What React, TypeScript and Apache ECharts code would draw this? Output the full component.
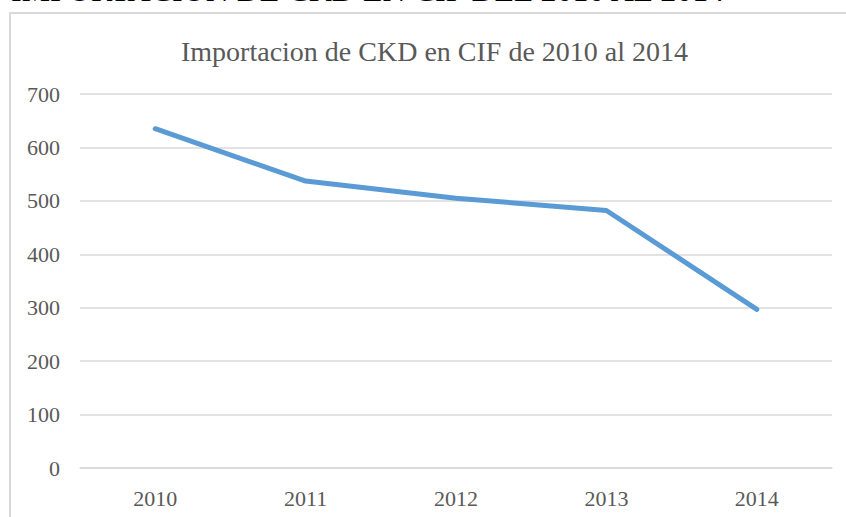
import React, { useEffect, useRef } from "react";
import * as echarts from "echarts";

const heading = "IMPORTACION DE CKD EN CIF DEL 2010 AL 2014";
const chartTitle = "Importacion de CKD en CIF de 2010 al 2014";
const years = ["2010", "2011", "2012", "2013", "2014"];
const cifValues = [635, 537, 505, 482, 297];

export default function App() {
  const ref = useRef<HTMLDivElement>(null);
  useEffect(() => {
    if (!ref.current) return;
    const chart = echarts.init(ref.current, null, { renderer: "svg" });
    const serif = "'Liberation Serif', 'Times New Roman', serif";
    chart.setOption({
      animation: false,
      backgroundColor: "#ffffff",
      title: {
        text: chartTitle,
        left: 176,
        top: 32,
        textStyle: { fontFamily: serif, fontSize: 28, fontWeight: "normal", color: "#595959" },
      },
      graphic: [
        {
          type: "rect",
          shape: { x: 10, y: 13, width: 900, height: 600 },
          style: { fill: "none", stroke: "#d9d9d9", lineWidth: 2 },
          silent: true,
        },
        {
          type: "text",
          x: 11,
          y: -10,
          style: {
            text: heading,
            fontFamily: serif,
            fontSize: 32,
            fill: "#000000",
            verticalAlign: "middle",
            align: "left",
          },
          silent: true,
        },
      ],
      grid: { left: 80, right: 14, top: 94, bottom: 49, containLabel: false },
      xAxis: {
        type: "category",
        data: years,
        boundaryGap: true,
        axisLine: { show: true, lineStyle: { color: "#d9d9d9", width: 1.5 } },
        axisTick: { show: false },
        axisLabel: { fontFamily: serif, fontSize: 22, color: "#595959", margin: 19 },
      },
      yAxis: {
        type: "value",
        min: 0,
        max: 700,
        interval: 100,
        axisLine: { show: false },
        axisTick: { show: false },
        splitLine: { lineStyle: { color: "#d9d9d9", width: 1.5 } },
        axisLabel: { fontFamily: serif, fontSize: 22, color: "#595959", margin: 20 },
      },
      series: [
        {
          type: "line",
          data: cifValues,
          symbol: "none",
          lineStyle: { color: "#5b9bd5", width: 5, cap: "round", join: "round" },
        },
      ],
    });
    return () => chart.dispose();
  }, []);
  return (
    <div
      ref={ref}
      style={{ position: "fixed", left: 0, top: 0, width: 846, height: 517 }}
    />
  );
}
